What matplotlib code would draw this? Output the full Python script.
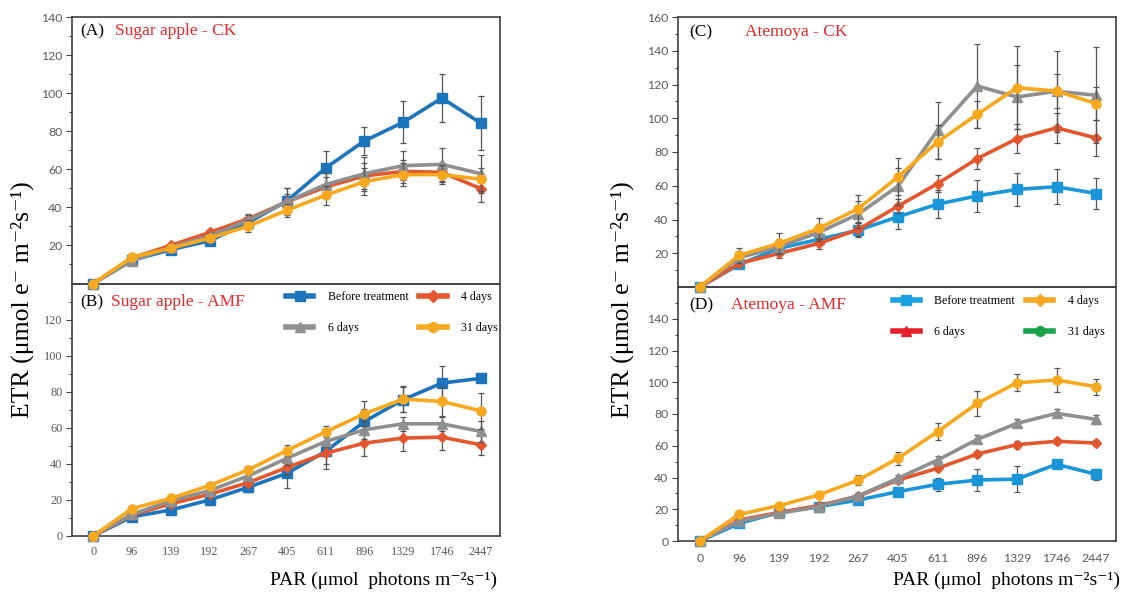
import numpy as np
import matplotlib
matplotlib.use("Agg")
import matplotlib.pyplot as plt
from matplotlib.lines import Line2D

# Данные: категории PAR и значения ETR для каждой панели
par_labels = ['0', '96', '139', '192', '267', '405', '611', '896', '1329', '1746', '2447']

# (A) Sugar apple - CK
a_before = [0, 12.2, 17.8, 22.4, 32.0, 43.4, 60.7, 74.9, 84.7, 97.4, 84.3]
a_before_err = [0, 1, 1.5, 2, 2.5, 7, 9, 7.5, 11, 12.5, 14]
a_4d = [0, 13.5, 20.0, 26.8, 34.0, 42.9, 50.7, 56.5, 58.9, 58.4, 49.9]
a_4d_err = [0, 1, 1.5, 2, 2.5, 4, 5, 7, 6, 5, 7]
a_6d = [0, 12.0, 19.0, 25.0, 33.2, 43.0, 52.0, 57.7, 61.9, 62.6, 57.7]
a_6d_err = [0, 1, 1.5, 2, 3, 7, 6, 9, 7.5, 8.5, 10]
a_31d = [0, 13.8, 18.5, 23.8, 30.1, 38.5, 46.4, 53.5, 57.2, 57.2, 54.8]
a_31d_err = [0, 1, 1.5, 2, 3, 3.5, 5, 7, 6, 5, 6]

# (B) Sugar apple - AMF
b_before = [0, 10.7, 14.4, 20.0, 27.0, 34.8, 46.9, 63.5, 75.6, 84.8, 87.4]
b_before_err = [0, 1, 2.5, 3, 2.5, 8.3, 10, 7, 7, 9.3, 1.5]
b_4d = [0, 11.7, 17.8, 23.1, 29.6, 38.0, 45.9, 51.5, 54.3, 54.8, 50.6]
b_4d_err = [0, 1, 1.5, 2, 2.5, 4, 6, 7, 7, 7, 5.5]
b_6d = [0, 12.0, 19.5, 25.2, 33.3, 43.1, 52.4, 58.9, 62.2, 62.2, 58.0]
b_6d_err = [0, 1, 1.5, 2, 2.5, 4, 3, 5, 4, 4, 6]
b_31d = [0, 15.2, 20.9, 28.0, 36.7, 47.4, 57.8, 67.8, 75.9, 74.6, 69.4]
b_31d_err = [0, 1, 1.5, 2, 2, 3, 3, 7, 7, 8, 10]

# (C) Atemoya - CK
c_before = [0, 13.4, 22.9, 28.2, 33.7, 41.6, 49.1, 54.0, 57.8, 59.4, 55.4]
c_before_err = [0, 2, 2.5, 3, 4, 7.5, 8.5, 9.3, 10, 10.4, 9]
c_4d = [0, 14.0, 19.9, 25.8, 34.1, 47.9, 61.3, 76.1, 87.9, 94.3, 88.3]
c_4d_err = [0, 2, 2.5, 3, 4, 4, 5, 6, 8.5, 8.7, 10.8]
c_6d = [0, 17.4, 23.9, 32.3, 43.2, 59.8, 92.9, 119.1, 112.6, 116.0, 113.6]
c_6d_err = [0, 3, 4, 5, 8, 11, 17, 25, 19, 24, 28.5]
c_31d = [0, 18.9, 25.8, 34.7, 46.5, 65.3, 86.0, 102.3, 118.1, 116.1, 108.7]
c_31d_err = [0, 4.5, 6, 6, 8, 11, 10, 8, 24.7, 10, 10]

# (D) Atemoya - AMF
d_before = [0, 11.1, 18.0, 21.6, 25.8, 31.1, 35.7, 38.4, 39.0, 48.3, 42.0]
d_before_err = [0, 1, 1.5, 1.5, 1.5, 2, 4, 7, 8, 2, 3.5]
d_4d = [0, 13.2, 18.0, 22.3, 28.3, 38.4, 45.8, 54.8, 60.7, 62.8, 61.7]
d_4d_err = [0, 1, 1, 1.5, 1.5, 2, 2, 2, 2, 2, 2]
d_6d = [0, 12.5, 17.4, 21.6, 28.5, 39.5, 51.0, 64.0, 74.1, 80.4, 76.6]
d_6d_err = [0, 1, 1.5, 1.5, 2, 2, 2.5, 2.5, 2.5, 2.5, 3]
d_31d = [0, 16.8, 22.3, 29.0, 38.4, 52.1, 68.9, 86.7, 99.7, 101.4, 97.2]
d_31d_err = [0, 1.5, 1.5, 2, 3, 4, 5.3, 8, 5.5, 7.5, 5]

legend_labels = ['Before treatment', '4 days', '6 days', '31 days']

c_blue = '#1c75bc'
c_blue2 = '#1a95d8'
c_red = '#e4572e'
c_gray = '#8f8f8f'
c_orange = '#f6a81e'
err_col = '#555555'
title_red = '#e8262a'
serif = ['Liberation Serif', 'DejaVu Serif']

W, H = 1130, 594
fig = plt.figure(figsize=(W / 100, H / 100), dpi=100)


def px_axes(x0, x1, y0, y1):
    return fig.add_axes([x0 / W, 1 - y1 / H, (x1 - x0) / W, (y1 - y0) / H])


def draw_panel(ax, series, ymax, blue, tick_font, show_x, show_zero, top_label, xpad):
    x = np.arange(len(par_labels))
    markers = ['s', 'D', '^', 'o']
    cols = [blue, c_red, c_gray, c_orange]
    for i in range(4):
        vals, errs = series[i]
        ax.errorbar(x, vals, yerr=errs, color=cols[i], ecolor=err_col, elinewidth=0.9,
                    capsize=2.5, capthick=0.9, lw=2.6, marker=markers[i],
                    ms=6.5 if markers[i] != 'D' else 5.5, clip_on=False, zorder=3 + i)
    ax.set_xlim(-0.55, 10.5)
    ax.set_ylim(0, ymax)
    ticks = list(range(0, ymax + 1, 20))
    if not show_zero:
        ticks = [t for t in ticks if t != 0]
    if not top_label:
        ticks = [t for t in ticks if t != ymax]
    ax.set_yticks(ticks)
    ax.set_yticks(np.arange(10, ymax, 20), minor=True)
    ax.tick_params(axis='y', which='major', direction='out', length=4, width=0.8,
                   color='#404040', labelsize=8.8, labelcolor='#595959', pad=3)
    ax.tick_params(axis='y', which='minor', direction='out', length=2.5, width=0.8,
                   color='#404040')
    for lab in ax.get_yticklabels():
        lab.set_fontfamily(tick_font)
    ax.set_xticks(x)
    if show_x:
        ax.set_xticklabels(par_labels)
        ax.tick_params(axis='x', length=0, labelsize=8.8, labelcolor='#595959', pad=xpad)
        for lab in ax.get_xticklabels():
            lab.set_fontfamily(tick_font)
    else:
        ax.set_xticklabels([])
        ax.tick_params(axis='x', length=0)
    for s in ax.spines.values():
        s.set_color('#404040')
        s.set_linewidth(1.2)


def add_legend(ax, cols, markers, anchor):
    handles = [Line2D([], [], color=c, marker=m, lw=4, ms=7 if m != 'D' else 6)
               for c, m in zip(cols, markers)]
    # порядок для ncol=2: первый столбец BT, 6 days; второй 4 days, 31 days
    h = [handles[0], handles[2], handles[1], handles[3]]
    l = [legend_labels[0], legend_labels[2], legend_labels[1], legend_labels[3]]
    ax.legend(h, l, ncol=2, loc='upper right', bbox_to_anchor=anchor, frameon=False,
              handlelength=2.3, handletextpad=1.2, labelspacing=1.55, columnspacing=0.9,
              prop={'family': 'Liberation Serif', 'size': 8.6})


ax_a = px_axes(72, 500, 17, 283.5)
ax_b = px_axes(72, 500, 283.5, 536)
ax_c = px_axes(678, 1116, 17, 287)
ax_d = px_axes(678, 1116, 287, 541)

draw_panel(ax_a, [(a_before, a_before_err), (a_4d, a_4d_err), (a_6d, a_6d_err), (a_31d, a_31d_err)],
           140, c_blue, 'Lato', False, False, True, 0)
draw_panel(ax_b, [(b_before, b_before_err), (b_4d, b_4d_err), (b_6d, b_6d_err), (b_31d, b_31d_err)],
           140, c_blue, 'Liberation Serif', True, True, False, 7)
draw_panel(ax_c, [(c_before, c_before_err), (c_4d, c_4d_err), (c_6d, c_6d_err), (c_31d, c_31d_err)],
           160, c_blue2, 'Lato', False, False, True, 0)
draw_panel(ax_d, [(d_before, d_before_err), (d_4d, d_4d_err), (d_6d, d_6d_err), (d_31d, d_31d_err)],
           160, c_blue2, 'Lato', True, True, False, 9)

ax_b.set_zorder(0)
ax_a.set_zorder(1)
ax_a.patch.set_alpha(0)
ax_c.set_zorder(1)
ax_c.patch.set_alpha(0)

add_legend(ax_b, [c_blue, c_red, c_gray, c_orange], ['s', 'D', '^', 'o'], (1.02, 1.012))
add_legend(ax_d, ['#1ba1e2', '#f5a623', '#e8202a', '#1aa34a'], ['s', 'D', '^', 'o'], (0.998, 1.01))

# подписи панелей
panel_texts = [
    (80, 31, '(A)', 115, 'Sugar apple - CK'),
    (80, 302, '(B)', 111, 'Sugar apple - AMF'),
    (689, 32, '(C)', 745, 'Atemoya - CK'),
    (689, 305, '(D)', 731, 'Atemoya - AMF'),
]
for x1, y, tag, x2, name in panel_texts:
    fig.text(x1 / W, 1 - y / H, tag, fontsize=12.5, family=serif, va='center')
    fig.text(x2 / W, 1 - y / H, name, fontsize=12.5, family=serif,
             color=title_red, va='center')

ylab = 'ETR (μmol e\u207b m\u207b\u00b2s\u207b\u00b9)'
xlab = 'PAR (μmol  photons m\u207b\u00b2s\u207b\u00b9)'
for xl in (22, 622):
    fig.text(xl / W, 1 - 300 / H, ylab, rotation=90, fontsize=18.5, family=serif,
             ha='center', va='center')
for xr in (497, 1120):
    fig.text(xr / W, 1 - 580 / H, xlab, fontsize=14, family=serif,
             ha='right', va='center')

fig.savefig('out.png', dpi=100)
